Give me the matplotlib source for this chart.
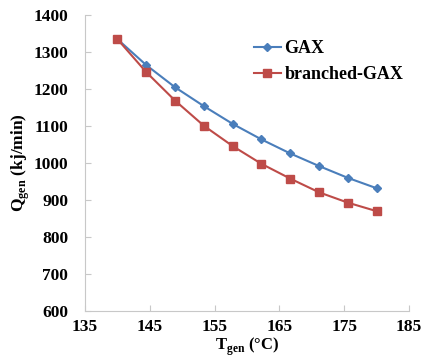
import matplotlib
matplotlib.use('Agg')
import matplotlib.pyplot as plt

t_gen = [140, 144.44, 148.89, 153.33, 157.78, 162.22, 166.67, 171.11, 175.56, 180]
q_gax = [1335, 1265, 1205, 1154, 1106, 1064, 1026, 992, 960, 932]
q_branched = [1335, 1246, 1169, 1101, 1046, 998, 958, 921, 893, 870]

plt.rcParams['font.family'] = 'Liberation Serif'
plt.rcParams['font.weight'] = 'bold'
plt.rcParams['mathtext.fontset'] = 'custom'
plt.rcParams['mathtext.rm'] = 'Liberation Serif:bold'
plt.rcParams['mathtext.bf'] = 'Liberation Serif:bold'

fig = plt.figure(figsize=(4.23, 3.6), dpi=100)
ax = fig.add_axes([0.201, 0.136, 0.766, 0.822])

ax.plot(t_gen, q_gax, color='#4a7ebb', marker='D', markersize=4, lw=1.5, label='GAX')
ax.plot(t_gen, q_branched, color='#be4b48', marker='s', markersize=6, lw=1.5, label='branched-GAX')

ax.set_xlim(135, 185)
ax.set_ylim(600, 1400)
ax.set_xticks([135, 145, 155, 165, 175, 185])
ax.set_yticks(range(600, 1401, 100))
for s in ['top', 'right']:
    ax.spines[s].set_visible(False)
for s in ['left', 'bottom']:
    ax.spines[s].set_color('#c8c8c8')
ax.tick_params(direction='in', color='#c8c8c8', length=4, labelsize=12.5)
ax.tick_params(axis='x', pad=6)
ax.tick_params(axis='y', pad=12)

ax.set_xlabel(r'T$_{\mathrm{gen}}$ (°C)', fontsize=12, fontweight='bold', labelpad=0)
ax.set_ylabel(r'Q$_{\mathrm{gen}}$ (kj/min)', fontsize=12.5, fontweight='bold', labelpad=1)

leg = ax.legend(loc='upper left', bbox_to_anchor=(0.47, 0.97), frameon=False,
                fontsize=13, handlelength=1.5, handletextpad=0.2, labelspacing=0.5)

fig.savefig('out.png', dpi=100)
